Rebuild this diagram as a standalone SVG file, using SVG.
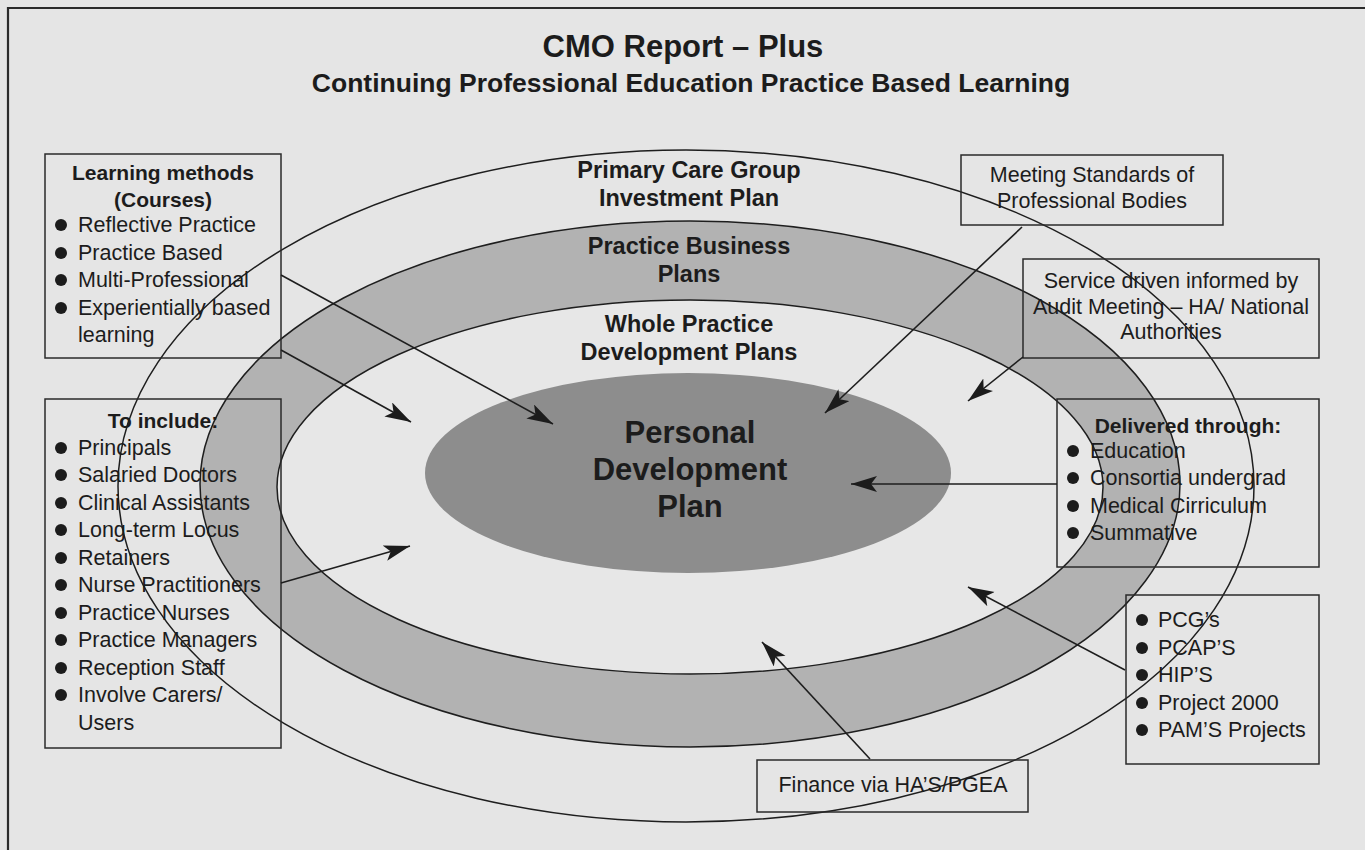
<svg xmlns="http://www.w3.org/2000/svg" width="1365" height="850" viewBox="0 0 1365 850">
  <style>
    text { font-family: "Liberation Sans", Arial, Helvetica, sans-serif; fill: #1c1c1c; }
    .title { font-size: 31px; font-weight: bold; text-anchor: middle; }
    .subtitle { font-size: 26.5px; font-weight: bold; text-anchor: middle; }
    .ring { font-size: 23.5px; font-weight: bold; text-anchor: middle; }
    .core { font-size: 31px; font-weight: bold; text-anchor: middle; }
    .head { font-size: 21px; font-weight: bold; text-anchor: middle; }
    .item { font-size: 21.5px; }
    .mid { font-size: 21.5px; text-anchor: middle; }
    .box { fill: none; stroke: #2a2a2a; stroke-width: 1.5; }
    .edge { fill: none; stroke: #1e1e1e; stroke-width: 1.5; }
    .dot { fill: #1c1c1c; }
    .link { fill: none; stroke: #1e1e1e; stroke-width: 1.6; marker-end: url(#head); }
  </style>
  <defs>
    <marker id="head" markerUnits="userSpaceOnUse" markerWidth="28" markerHeight="18" refX="26" refY="8" orient="auto">
      <path d="M0,0 L26,8 L0,16 L6,8 z" fill="#1c1c1c"/>
    </marker>
  </defs>

  <!-- page -->
  <rect x="0" y="0" width="1365" height="850" fill="#e5e5e5"/>
  <path d="M8,850 V8 H1365" fill="none" stroke="#2b2b2b" stroke-width="2.2"/>

  <!-- title -->
  <text class="title" x="683" y="57">CMO Report – Plus</text>
  <text class="subtitle" x="691" y="92">Continuing Professional Education Practice Based Learning</text>

  <!-- nested plans -->
  <g id="investment-plan">
    <ellipse cx="686" cy="486" rx="568" ry="336" class="edge"/>
    <text class="ring" x="689" y="178">Primary Care Group</text>
    <text class="ring" x="689" y="206">Investment Plan</text>
  </g>
  <g id="business-plans">
    <ellipse cx="690" cy="484" rx="490" ry="263" fill="#b2b2b2" stroke="#1e1e1e" stroke-width="1.5"/>
    <text class="ring" x="689" y="254">Practice Business</text>
    <text class="ring" x="689" y="282">Plans</text>
  </g>
  <g id="whole-practice">
    <ellipse cx="690" cy="487" rx="413" ry="187" fill="#e7e7e7" stroke="#1e1e1e" stroke-width="1.5"/>
    <text class="ring" x="689" y="332">Whole Practice</text>
    <text class="ring" x="689" y="360">Development Plans</text>
  </g>
  <g id="personal-plan">
    <ellipse cx="688" cy="473" rx="263" ry="100" fill="#8d8d8d"/>
    <text class="core" x="690" y="443">Personal</text>
    <text class="core" x="690" y="480">Development</text>
    <text class="core" x="690" y="517">Plan</text>
  </g>

  <!-- side boxes -->
  <g id="learning-methods">
    <rect class="box" x="45" y="154" width="236" height="204"/>
    <text class="head" x="163" y="180">Learning methods</text>
    <text class="head" x="163" y="207">(Courses)</text>
    <circle class="dot" cx="61" cy="225" r="6"/>
    <text class="item" x="78" y="232">Reflective Practice</text>
    <circle class="dot" cx="61" cy="253" r="6"/>
    <text class="item" x="78" y="260">Practice Based</text>
    <circle class="dot" cx="61" cy="280" r="6"/>
    <text class="item" x="78" y="287">Multi-Professional</text>
    <circle class="dot" cx="61" cy="308" r="6"/>
    <text class="item" x="78" y="315">Experientially based</text>
    <text class="item" x="78" y="342">learning</text>
  </g>

  <g id="to-include">
    <rect class="box" x="45" y="399" width="236" height="349"/>
    <text class="head" x="163" y="428">To include:</text>
    <circle class="dot" cx="61" cy="448" r="6"/>
    <text class="item" x="78" y="455">Principals</text>
    <circle class="dot" cx="61" cy="475" r="6"/>
    <text class="item" x="78" y="482">Salaried Doctors</text>
    <circle class="dot" cx="61" cy="503" r="6"/>
    <text class="item" x="78" y="510">Clinical Assistants</text>
    <circle class="dot" cx="61" cy="530" r="6"/>
    <text class="item" x="78" y="537">Long-term Locus</text>
    <circle class="dot" cx="61" cy="558" r="6"/>
    <text class="item" x="78" y="565">Retainers</text>
    <circle class="dot" cx="61" cy="585" r="6"/>
    <text class="item" x="78" y="592">Nurse Practitioners</text>
    <circle class="dot" cx="61" cy="613" r="6"/>
    <text class="item" x="78" y="620">Practice Nurses</text>
    <circle class="dot" cx="61" cy="640" r="6"/>
    <text class="item" x="78" y="647">Practice Managers</text>
    <circle class="dot" cx="61" cy="668" r="6"/>
    <text class="item" x="78" y="675">Reception Staff</text>
    <circle class="dot" cx="61" cy="695" r="6"/>
    <text class="item" x="78" y="702">Involve Carers/</text>
    <text class="item" x="78" y="730">Users</text>
  </g>

  <g id="professional-standards">
    <rect class="box" x="961" y="155" width="262" height="70"/>
    <text class="mid" x="1092" y="182">Meeting Standards of</text>
    <text class="mid" x="1092" y="208">Professional Bodies</text>
  </g>

  <g id="service-driven">
    <rect class="box" x="1023" y="259" width="296" height="99"/>
    <text class="mid" x="1171" y="288">Service driven informed by</text>
    <text class="mid" x="1171" y="314">Audit Meeting – HA/ National</text>
    <text class="mid" x="1171" y="339">Authorities</text>
  </g>

  <g id="delivered-through">
    <rect class="box" x="1057" y="399" width="262" height="168"/>
    <text class="head" x="1188" y="433">Delivered through:</text>
    <circle class="dot" cx="1073" cy="451" r="6"/>
    <text class="item" x="1090" y="458">Education</text>
    <circle class="dot" cx="1073" cy="478" r="6"/>
    <text class="item" x="1090" y="485">Consortia undergrad</text>
    <circle class="dot" cx="1073" cy="506" r="6"/>
    <text class="item" x="1090" y="513">Medical Cirriculum</text>
    <circle class="dot" cx="1073" cy="533" r="6"/>
    <text class="item" x="1090" y="540">Summative</text>
  </g>

  <g id="local-projects">
    <rect class="box" x="1126" y="595" width="193" height="169"/>
    <circle class="dot" cx="1142" cy="620" r="6"/>
    <text class="item" x="1158" y="627">PCG’s</text>
    <circle class="dot" cx="1142" cy="648" r="6"/>
    <text class="item" x="1158" y="655">PCAP’S</text>
    <circle class="dot" cx="1142" cy="675" r="6"/>
    <text class="item" x="1158" y="682">HIP’S</text>
    <circle class="dot" cx="1142" cy="703" r="6"/>
    <text class="item" x="1158" y="710">Project 2000</text>
    <circle class="dot" cx="1142" cy="730" r="6"/>
    <text class="item" x="1158" y="737">PAM’S Projects</text>
  </g>

  <g id="finance">
    <rect class="box" x="757" y="760" width="271" height="52"/>
    <text class="mid" x="893" y="792">Finance via HA’S/PGEA</text>
  </g>

  <!-- connectors -->
  <g id="connectors">
    <line class="link" x1="281" y1="275" x2="553" y2="424"/>
    <line class="link" x1="281" y1="350" x2="411" y2="422"/>
    <line class="link" x1="281" y1="583" x2="410" y2="546"/>
    <line class="link" x1="1022" y1="227" x2="825" y2="413"/>
    <line class="link" x1="1023" y1="357" x2="968" y2="401"/>
    <line class="link" x1="1057" y1="484" x2="851" y2="484"/>
    <line class="link" x1="1125" y1="670" x2="968" y2="587"/>
    <line class="link" x1="870" y1="759" x2="762" y2="642"/>
  </g>
</svg>
